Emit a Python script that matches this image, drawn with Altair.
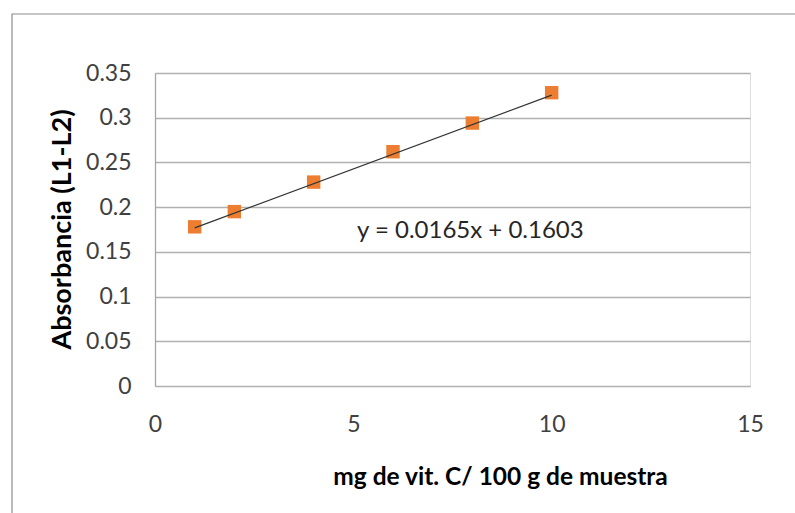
import altair as alt
import pandas as pd

# Calibration data: vitamin C content vs absorbance
mg_vit_c = [1, 2, 4, 6, 8, 10]
absorbance = [0.178, 0.195, 0.228, 0.262, 0.294, 0.328]

# Linear fit as reported on the chart
slope = 0.0165
intercept = 0.1603
fit_x = [1, 10]
equation_label = "y = 0.0165x + 0.1603"
label_x = [7.95]
label_y = [0.173]

x_ticks = [0, 5, 10, 15]
y_ticks = [0, 0.05, 0.1, 0.15, 0.2, 0.25, 0.3, 0.35]

FONT = "Lato"

points = pd.DataFrame({"x": mg_vit_c, "y": absorbance})
fit = pd.DataFrame({"x": fit_x, "y": [slope * v + intercept for v in fit_x]})
label = pd.DataFrame({"x": label_x, "y": label_y, "t": [equation_label]})

x_scale = alt.Scale(domain=[0, 15], nice=False, zero=False)
y_scale = alt.Scale(domain=[0, 0.35], nice=False, zero=False)

x_axis = alt.Axis(
    values=x_ticks, grid=False, ticks=False, domain=False, labelFlush=False,
    labelFont=FONT, labelFontSize=23, labelColor="#404040", labelPadding=27,
    title="mg de vit. C/ 100 g de muestra", titleFont=FONT, titleFontSize=24.5,
    titleFontWeight="bold", titleColor="#000000",
    titleX=345, titleY=91, titleBaseline="middle", titleAnchor="middle",
)
y_axis = alt.Axis(
    values=y_ticks, grid=True, gridColor="#B0B0B0", gridWidth=1.3,
    ticks=False, domain=True, domainColor="#A6A6A6", domainWidth=1.3,
    labelFlush=False,
    labelFont=FONT, labelFontSize=23, labelColor="#404040", labelPadding=24,
    format="~g",
    title="Absorbancia (L1-L2)", titleFont=FONT, titleFontSize=27,
    titleFontWeight="bold", titleColor="#000000",
    titleX=-93, titleY=156, titleAngle=-90, titleAlign="center",
    titleBaseline="middle",
)

# Outer frame around the whole chart area
frame = alt.Chart(pd.DataFrame({"a": [0]})).mark_rect(
    fill=None, stroke="#8C8C8C", strokeWidth=1.2, clip=False
).encode(
    x=alt.value(-143), x2=alt.value(700),
    y=alt.value(-59), y2=alt.value(500),
)

base = alt.Chart(points).encode(
    x=alt.X("x:Q", scale=x_scale, axis=x_axis),
    y=alt.Y("y:Q", scale=y_scale, axis=y_axis),
)

fit_line = alt.Chart(fit).mark_line(color="#333333", strokeWidth=1.3).encode(
    x=alt.X("x:Q", scale=x_scale),
    y=alt.Y("y:Q", scale=y_scale),
)

markers = base.mark_square(size=180, color="#ED7D31", opacity=1)

eq_text = alt.Chart(label).mark_text(
    font=FONT, fontSize=24, color="#262626", align="center", baseline="middle"
).encode(
    x=alt.X("x:Q", scale=x_scale),
    y=alt.Y("y:Q", scale=y_scale),
    text="t:N",
)

chart = alt.layer(frame, base.mark_point(opacity=0), markers, fit_line, eq_text).properties(
    width=595, height=313,
    autosize=alt.AutoSizeParams(type="none"),
    padding={"left": 155, "top": 73, "right": 45, "bottom": 127},
).configure_view(stroke=None).configure(background="white")

chart.save("out.html", embed_options={"renderer": "svg", "actions": False})
